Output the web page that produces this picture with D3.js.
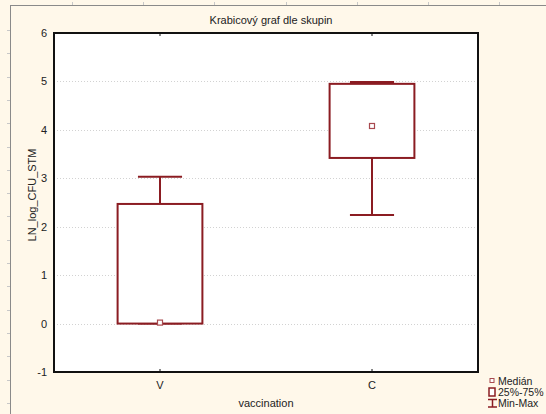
<!DOCTYPE html>
<html>
<head>
<meta charset="utf-8">
<script src="https://cdn.jsdelivr.net/npm/d3@7/dist/d3.min.js"></script>
<style>
  html, body { margin: 0; padding: 0; background: #fff8ea; }
  svg { display: block; }
  text { font-family: "Liberation Sans", Arial, sans-serif; fill: #222; }
</style>
</head>
<body>
<svg id="chart" width="546" height="414"></svg>
<script>
// Box plot of LN_log_CFU_STM by vaccination group
const categories = ["V", "C"];
const minValues    = [0.00, 2.24];
const q1Values     = [0.00, 3.42];
const medianValues = [0.02, 4.08];
const q3Values     = [2.47, 4.95];
const maxValues    = [3.03, 4.99];
const yTicks = [-1, 0, 1, 2, 3, 4, 5, 6];
const gridValues = [0, 1, 2, 3, 4, 5];
const titleText = "Krabicový graf dle skupin";
const xTitle = "vaccination";
const yTitle = "LN_log_CFU_STM";
const legendItems = ["Medián", "25%-75%", "Min-Max"];

const boxColor = "#8b1c22";
const W = 546, H = 414;
const plot = { left: 54, right: 478, top: 33, bottom: 372 };

const svg = d3.select("#chart");

// background and the sheet ruler
svg.append("rect").attr("width", W).attr("height", H).attr("fill", "#fff8ea");
const ruler = svg.append("g").attr("stroke", "#8a8a8a").attr("fill", "none");
ruler.append("line").attr("x1", 10).attr("x2", W).attr("y1", 5.5).attr("y2", 5.5);
ruler.append("line").attr("x1", 10.5).attr("x2", 10.5).attr("y1", 5).attr("y2", H);
const topRuler = d3.range(72, W, 71.2);
ruler.selectAll(".rt").data(topRuler).join("line")
  .attr("stroke", "#c8c8c8")
  .attr("x1", d => Math.round(d) + 0.5).attr("x2", d => Math.round(d) + 0.5)
  .attr("y1", 2).attr("y2", 5);
const leftRuler = d3.range(30, H, 23.3);
ruler.selectAll(".rl").data(leftRuler).join("line")
  .attr("stroke", "#c8c8c8")
  .attr("x1", 7).attr("x2", 10)
  .attr("y1", d => Math.round(d) + 0.5).attr("y2", d => Math.round(d) + 0.5);

// scales
const x = d3.scalePoint().domain(categories).range([plot.left, plot.right]).padding(0.5);
const y = d3.scaleLinear().domain([-1, 6]).range([plot.bottom, plot.top]);
const boxW = (plot.right - plot.left) * 0.2;
const capW = boxW * 0.52;

// plot area
svg.append("rect")
  .attr("x", plot.left).attr("y", plot.top)
  .attr("width", plot.right - plot.left).attr("height", plot.bottom - plot.top)
  .attr("fill", "#ffffff");

// dotted grid
svg.append("g").selectAll("line").data(gridValues).join("line")
  .attr("x1", plot.left).attr("x2", plot.right)
  .attr("y1", d => Math.round(y(d)) + 0.5).attr("y2", d => Math.round(y(d)) + 0.5)
  .attr("stroke", "#d2d2d2").attr("stroke-width", 1).attr("stroke-dasharray", "1,2");

// boxes
const groups = svg.append("g").selectAll("g").data(categories).join("g");
groups.append("line")
  .attr("x1", d => x(d)).attr("x2", d => x(d))
  .attr("y1", (d, i) => y(maxValues[i])).attr("y2", (d, i) => y(q3Values[i]))
  .attr("stroke", boxColor).attr("stroke-width", 2);
groups.append("line")
  .attr("x1", d => x(d)).attr("x2", d => x(d))
  .attr("y1", (d, i) => y(q1Values[i])).attr("y2", (d, i) => y(minValues[i]))
  .attr("stroke", boxColor).attr("stroke-width", 2);
groups.append("line")
  .attr("x1", d => x(d) - capW / 2).attr("x2", d => x(d) + capW / 2)
  .attr("y1", (d, i) => y(maxValues[i])).attr("y2", (d, i) => y(maxValues[i]))
  .attr("stroke", boxColor).attr("stroke-width", 2);
groups.append("line")
  .attr("x1", d => x(d) - capW / 2).attr("x2", d => x(d) + capW / 2)
  .attr("y1", (d, i) => y(minValues[i])).attr("y2", (d, i) => y(minValues[i]))
  .attr("stroke", boxColor).attr("stroke-width", 2);
groups.append("rect")
  .attr("x", d => x(d) - boxW / 2).attr("width", boxW)
  .attr("y", (d, i) => y(q3Values[i]))
  .attr("height", (d, i) => y(q1Values[i]) - y(q3Values[i]))
  .attr("fill", "#ffffff").attr("stroke", boxColor).attr("stroke-width", 2);
groups.append("rect")
  .attr("x", d => x(d) - 2.5).attr("width", 5)
  .attr("y", (d, i) => y(medianValues[i]) - 2.5).attr("height", 5)
  .attr("fill", "#ffffff").attr("stroke", "#a84a4f").attr("stroke-width", 1.2);

// plot frame
svg.append("rect")
  .attr("x", plot.left).attr("y", plot.top)
  .attr("width", plot.right - plot.left).attr("height", plot.bottom - plot.top)
  .attr("fill", "none").attr("stroke", "#111").attr("stroke-width", 2);

// y axis labels
svg.append("g").selectAll("text").data(yTicks).join("text")
  .attr("x", plot.left - 7).attr("y", d => y(d) + 4)
  .attr("text-anchor", "end").attr("font-size", 11)
  .text(d => d);

// category ticks and labels
svg.append("g").selectAll("line").data(categories).join("line")
  .attr("x1", d => x(d)).attr("x2", d => x(d))
  .attr("y1", plot.bottom - 3).attr("y2", plot.bottom)
  .attr("stroke", "#111").attr("stroke-width", 1);
svg.append("g").selectAll("line").data(categories).join("line")
  .attr("x1", d => x(d)).attr("x2", d => x(d))
  .attr("y1", plot.top).attr("y2", plot.top + 3)
  .attr("stroke", "#111").attr("stroke-width", 1);
svg.append("g").selectAll("text").data(categories).join("text")
  .attr("x", d => x(d)).attr("y", plot.bottom + 17)
  .attr("text-anchor", "middle").attr("font-size", 11)
  .text(d => d);

// titles
svg.append("text").attr("x", 271).attr("y", 24)
  .attr("text-anchor", "middle").attr("font-size", 11).text(titleText);
svg.append("text").attr("x", 266).attr("y", 407)
  .attr("text-anchor", "middle").attr("font-size", 11).text(xTitle);
svg.append("text")
  .attr("transform", "translate(36,195) rotate(-90)")
  .attr("text-anchor", "middle").attr("font-size", 11).text(yTitle);

// legend
const lg = svg.append("g");
lg.append("rect").attr("x", 490).attr("y", 378.5).attr("width", 4).attr("height", 4)
  .attr("fill", "#fff").attr("stroke", "#a84a4f").attr("stroke-width", 1);
lg.append("rect").attr("x", 489).attr("y", 388).attr("width", 6).attr("height", 8)
  .attr("fill", "#fff").attr("stroke", boxColor).attr("stroke-width", 1.5);
lg.append("line").attr("x1", 488).attr("x2", 497).attr("y1", 399.5).attr("y2", 399.5)
  .attr("stroke", boxColor).attr("stroke-width", 1.5);
lg.append("line").attr("x1", 488).attr("x2", 497).attr("y1", 407).attr("y2", 407)
  .attr("stroke", boxColor).attr("stroke-width", 1.5);
lg.append("line").attr("x1", 492.5).attr("x2", 492.5).attr("y1", 399.5).attr("y2", 407)
  .attr("stroke", boxColor).attr("stroke-width", 1.5);
lg.selectAll("text").data(legendItems).join("text")
  .attr("x", 498).attr("y", (d, i) => 385 + i * 11)
  .attr("font-size", 10.5).text(d => d);
</script>
</body>
</html>
